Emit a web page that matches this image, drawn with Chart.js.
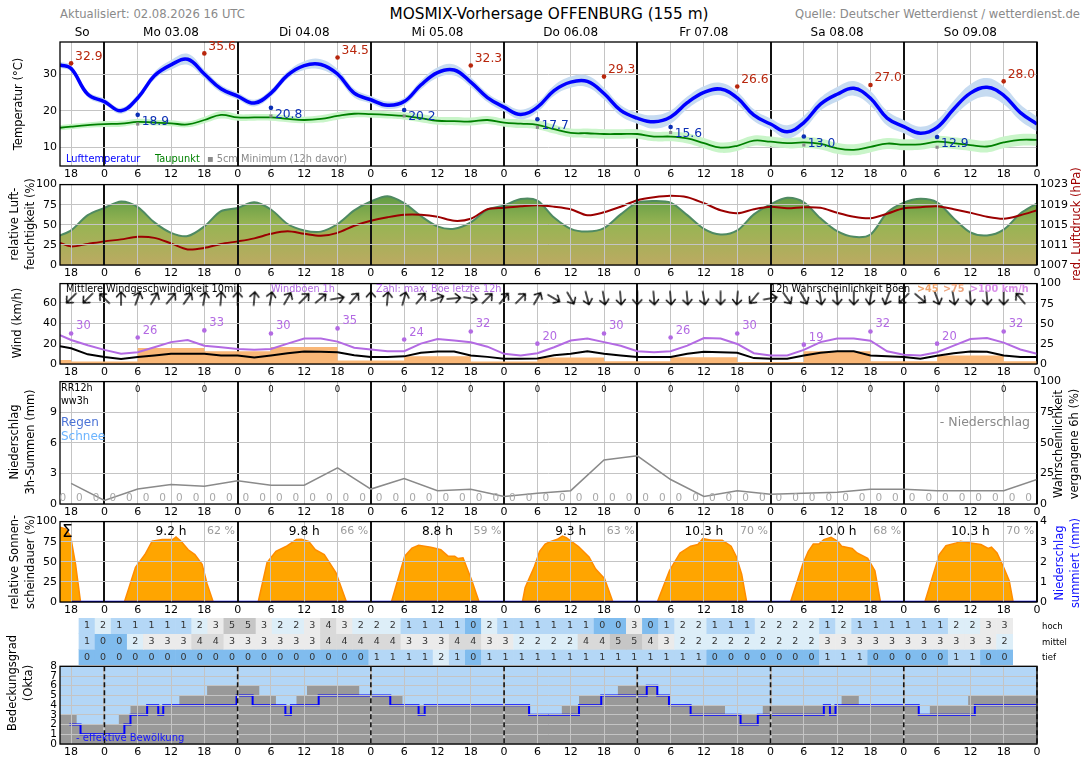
<!DOCTYPE html>
<html lang="de">
<head>
<meta charset="UTF-8">
<title>MOSMIX-Vorhersage OFFENBURG (155 m)</title>
<script src="https://cdn.jsdelivr.net/npm/chart.js@4.4.1/dist/chart.umd.min.js"></script>
<style>
  html, body { margin: 0; padding: 0; background: #fff; }
  body { font-family: "DejaVu Sans", sans-serif; }
  #page { position: relative; width: 1088px; height: 763px; overflow: hidden; }
  #page canvas { position: absolute; left: 0; }
  .t { position: absolute; white-space: nowrap; line-height: 1; }
  .rot { position: absolute; white-space: nowrap; text-align: center; font-size: 11.5px; line-height: 16px;
         transform: translate(-50%, -50%) rotate(-90deg); }
  .row { position: absolute; left: 1042px; font-size: 8.5px; line-height: 1; transform: translateY(-50%); }
</style>
</head>
<body>
<div id="page">
  <div class="t" style="left:60px; top:9px; font-size:11.6px; color:#8a8a8a;">Aktualisiert: 02.08.2026 16 UTC</div>
  <div class="t" style="left:549px; top:7px; font-size:15.3px; transform:translateX(-50%);">MOSMIX-Vorhersage OFFENBURG (155 m)</div>
  <div class="t" style="right:8px; top:9px; font-size:11.6px; color:#8a8a8a;">Quelle: Deutscher Wetterdienst / wetterdienst.de</div>

  <canvas id="cTemp"></canvas>
  <canvas id="cHum"></canvas>
  <canvas id="cWind"></canvas>
  <canvas id="cRain"></canvas>
  <canvas id="cSun"></canvas>
  <canvas id="cCloudTab"></canvas>
  <canvas id="cOkta"></canvas>

  <div class="rot" style="left:18px; top:104px;">Temperatur (°C)</div>
  <div class="rot" style="left:22px; top:224px;">relative Luft-<br>feuchtigkeit (%)</div>
  <div class="rot" style="left:17px; top:323px;">Wind (km/h)</div>
  <div class="rot" style="left:22px; top:442px;">Niederschlag<br>3h-Summen (mm)</div>
  <div class="rot" style="left:22px; top:562px;">relative Sonnen-<br>scheindauer (%)</div>
  <div class="rot" style="left:20px; top:683px;">Bedeckungsgrad<br>(Okta)</div>
  <div class="rot" style="left:1076px; top:224px; color:#a00000;">red. Luftdruck (hPa)</div>
  <div class="rot" style="left:1066px; top:444px;">Wahrscheinlichkeit<br>vergangene 6h (%)</div>
  <div class="rot" style="left:1067px; top:563px; color:#1010ff;">Niederschlag<br>summiert (mm)</div>

  <div class="row" style="top:626px;">hoch</div>
  <div class="row" style="top:642px;">mittel</div>
  <div class="row" style="top:657px;">tief</div>
</div>

<script>
Chart.defaults.font.family = '"DejaVu Sans", sans-serif';
Chart.defaults.font.size = 11;
Chart.defaults.color = '#000';

// all times are hours counted from 02.08. 00 UTC
const hourTicks = [18, 24, 30, 36, 42, 48, 54, 60, 66, 72, 78, 84, 90, 96, 102, 108, 114, 120, 126, 132, 138, 144, 150, 156, 162, 168, 174, 180, 186, 192];
const dayLabels = ['So', 'Mo 03.08', 'Di 04.08', 'Mi 05.08', 'Do 06.08', 'Fr 07.08', 'Sa 08.08', 'So 09.08'];
const dayCenters = [20, 36, 60, 84, 108, 132, 156, 180];

const hours3 = [16, 18, 21, 24, 27, 30, 33, 36, 39, 42, 45, 48, 51, 54, 57, 60, 63, 66, 69, 72,
  75, 78, 81, 84, 87, 90, 93, 96, 99, 102, 105, 108, 111, 114, 117, 120, 123, 126, 129, 132,
  135, 138, 141, 144, 147, 150, 153, 156, 159, 162, 165, 168, 171, 174, 177, 180, 183, 186, 189, 192];
const steps3h = [18, 21, 24, 27, 30, 33, 36, 39, 42, 45, 48, 51, 54, 57, 60, 63, 66, 69, 72,
  75, 78, 81, 84, 87, 90, 93, 96, 99, 102, 105, 108, 111, 114, 117, 120, 123, 126, 129, 132,
  135, 138, 141, 144, 147, 150, 153, 156, 159, 162, 165, 168, 171, 174, 177, 180, 183, 186, 189];

// temperature panel
const temp = [32.5, 31.5, 24.5, 22.5, 20.0, 23.5, 29.5, 32.5, 34.0, 30.0,
  26.0, 24.0, 22.1, 24.8, 29.7, 32.3, 32.6, 30.0, 24.8, 23.0,
  21.5, 22.5, 27.0, 30.4, 31.1, 27.8, 23.6, 21.0, 19.0, 21.0,
  25.5, 27.8, 28.0, 24.7, 20.1, 18.0, 17.0, 18.3, 22.2, 25.0,
  25.9, 23.5, 18.8, 16.4, 14.3, 16.8, 21.8, 24.5, 26.1, 23.4,
  18.0, 15.7, 13.9, 15.5, 20.5, 24.8, 26.4, 24.2, 19.5, 16.4];
const tempSpread = [0.8, 0.8, 0.8, 0.8, 0.8, 0.9, 1.0, 1.3, 1.5, 1.2,
  1.0, 0.9, 0.9, 1.0, 1.0, 1.2, 1.4, 1.3, 1.2, 1.0,
  1.0, 1.0, 1.2, 1.4, 1.5, 1.3, 1.2, 1.2, 1.3, 1.3,
  1.4, 1.5, 1.6, 1.6, 1.5, 1.5, 1.8, 1.8, 1.7, 1.7,
  1.7, 1.7, 1.6, 1.5, 1.8, 1.8, 1.8, 2.0, 2.0, 2.0,
  2.0, 1.8, 1.8, 2.0, 2.2, 2.4, 2.5, 2.4, 2.2, 2.0];
const dewPoint = [15.4, 15.7, 16.1, 16.4, 16.5, 17.0, 16.8, 16.6, 16.3, 17.5,
  18.9, 18.2, 18.2, 18.2, 17.8, 17.5, 17.8, 18.6, 19.2, 19.1,
  18.9, 18.6, 18.0, 17.3, 17.2, 17.1, 17.5, 16.8, 16.5, 16.2,
  15.0, 14.0, 13.9, 13.7, 13.7, 13.7, 13.0, 13.0, 12.5, 11.2,
  10.0, 10.5, 11.9, 11.6, 11.2, 11.4, 11.0, 9.8, 9.4, 10.2,
  11.1, 10.8, 10.9, 11.6, 11.2, 10.7, 10.3, 11.4, 12.1, 12.1];
const dewSpread = [0.7, 0.7, 0.7, 0.8, 0.8, 0.8, 0.8, 0.8, 0.8, 0.9,
  1.0, 0.9, 0.9, 0.9, 0.9, 0.9, 1.0, 1.0, 1.0, 1.0,
  1.0, 1.0, 1.1, 1.1, 1.1, 1.1, 1.1, 1.1, 1.2, 1.2,
  1.2, 1.2, 1.3, 1.3, 1.3, 1.3, 1.3, 1.3, 1.4, 1.4,
  1.4, 1.4, 1.4, 1.4, 1.4, 1.5, 1.5, 1.5, 1.5, 1.5,
  1.5, 1.5, 1.5, 1.6, 1.6, 1.6, 1.6, 1.6, 1.6, 1.6];
const maxHours = [18, 42, 66, 90, 114, 138, 162, 186];
const maxTemp = [32.9, 35.6, 34.5, 32.3, 29.3, 26.6, 27.0, 28.0];
const minHours = [30, 54, 78, 102, 126, 150, 174];
const minTemp = [18.9, 20.8, 20.2, 17.7, 15.6, 13.0, 12.9];
const min5cm = [16.4, 18.6, 18.6, 15.5, 14.1, 10.7, 10.1];

// humidity / pressure
const humidity = [36.7, 43, 62, 71, 79, 72, 53, 40, 36, 48,
  67, 71, 78, 69, 51, 43, 41.5, 51, 68, 79,
  85.5, 77, 61, 48, 45, 53, 69, 74, 82, 80,
  59, 45, 41.6, 46, 63, 77.5, 79.5, 77.5, 62, 45,
  38, 43, 63, 75.5, 83.5, 78, 58, 42, 35, 38,
  65, 77.5, 82.4, 78, 58, 40.5, 36.7, 44, 64, 76.7];
const pressure = [1011.4, 1010.7, 1011.2, 1011.7, 1012.1, 1012.6, 1012.4, 1011.3, 1010.1, 1010.4,
  1011.2, 1011.7, 1012.3, 1013.2, 1013.7, 1013.2, 1012.8, 1013.4, 1014.8, 1015.8,
  1016.5, 1017.0, 1017.0, 1016.6, 1015.8, 1016.2, 1018.1, 1018.4, 1018.7, 1018.9,
  1018.6, 1018.1, 1016.9, 1017.5, 1018.6, 1019.9, 1020.5, 1020.8, 1020.5, 1019.3,
  1017.9, 1017.3, 1018.1, 1018.6, 1018.3, 1018.5, 1018.4, 1017.4, 1016.6, 1016.3,
  1017.2, 1018.3, 1018.5, 1018.7, 1018.1, 1017.4, 1016.6, 1016.2, 1016.9, 1017.9];

// wind
const windMean = [17.4, 15.5, 9.5, 6.8, 4.8, 6.8, 8.4, 10, 10, 10,
  8.4, 8.4, 6.5, 8.4, 10.5, 12.3, 12, 11.6, 8.5, 6.8,
  6.8, 7.5, 11, 12.3, 12.3, 8.4, 7, 5.2, 5.2, 5.5,
  8.5, 10, 12.5, 10, 8.4, 6.8, 6.8, 6.8, 10, 12,
  11.6, 11, 5.8, 5.2, 5.2, 8.4, 11, 12.6, 12.6, 8.4,
  7.5, 6.8, 5.2, 8, 10.5, 12.3, 12, 8.4, 6.8, 6.8];
const windGust = [28.4, 23.6, 18.5, 13.9, 10, 11.6, 16.5, 21.5, 23.6, 18,
  16.5, 14.8, 13.9, 14.8, 20, 25, 25.1, 22, 16, 14.2,
  12.6, 12.6, 20, 24.5, 23, 21.3, 17, 10, 8.4, 10.6,
  16.5, 23, 25.1, 21.5, 18, 12.6, 11.6, 12.6, 18, 25.5,
  25, 19.7, 10.6, 8.4, 8.4, 13.9, 21.5, 25.1, 25, 22.9,
  12.5, 9, 8.4, 11.6, 18, 24.5, 25.5, 21, 14.2, 10];
const gustMaxHours = [18, 30, 42, 54, 66, 78, 90, 102, 114, 126, 138, 150, 162, 174, 186];
const gustMax = [30, 26, 33, 30, 35, 24, 32, 20, 30, 26, 30, 19, 32, 20, 32];
// direction the arrow points to, degrees clockwise from north (at steps3h)
const windDirTo = [225, 225, 315, 0, 20, 30, 40, 35, 10, 5,
  0, 5, 10, 30, 45, 50, 80, 40, 0, 5,
  15, 40, 70, 85, 100, 45, 40, 45, 30, 120,
  150, 165, 170, 175, 180, 175, 175, 175, 170, 180,
  185, 220, 80, 145, 150, 170, 175, 180, 190, 200,
  225, 130, 160, 170, 175, 175, 180, 320];
const gustProbHours = [16, 18, 30, 42, 54, 66, 78, 90, 102, 114, 126, 138, 150, 162, 174, 186, 192];
const gustProb45 = [5, 3, 20, 16, 21, 4.5, 9.5, 3, 8, 3.5, 8.5, 2.5, 16, 3.5, 10.5, 3.5, 3.5];

// precipitation
const rainProbHours = [18, 24, 30, 36, 42, 48, 54, 60, 66, 72, 78, 84, 90, 96, 102,
  108, 114, 120, 126, 132, 138, 144, 150, 156, 162, 168, 174, 180, 186, 192];
const rainProb = [16.8, 2.9, 12.2, 16, 14.6, 18.9, 15.4, 15.4, 29.6, 12.2, 20.8, 10.9, 12, 6.1, 8.8,
  10.9, 36, 39.4, 20, 6.1, 10.9, 8, 8.8, 9.6, 12, 12, 10.9, 10.9, 10.9, 20];
const precip3h = [0, 0, 0, 0, 0, 0, 0, 0, 0, 0, 0, 0, 0, 0, 0, 0, 0, 0, 0, 0,
  0, 0, 0, 0, 0, 0, 0, 0, 0, 0, 0, 0, 0, 0, 0, 0, 0, 0, 0, 0,
  0, 0, 0, 0, 0, 0, 0, 0, 0, 0, 0, 0, 0, 0, 0, 0, 0, 0, 0];
const rr12Hours = [30, 42, 54, 66, 78, 90, 102, 114, 126, 138, 150, 162, 174, 186];
const rr12 = [0, 0, 0, 0, 0, 0, 0, 0, 0, 0, 0, 0, 0, 0];

// sunshine
const sunHours = [16, 17, 17.9, 18.8, 19.7,
  27.6, 29.6, 31.3, 32.6, 34.4, 36.3, 36.9, 37.8, 39.1, 40.3, 41.6, 42.5, 43.6,
  51.7, 53.3, 54.9, 56.7, 58.6, 59.5, 60.8, 62, 63.6, 65.7, 67.6,
  75.7, 78.1, 79.4, 80.6, 82.8, 84.6, 85.9, 87.1, 87.7, 88.6, 90.2, 91.5,
  99.3, 99.8, 101.4, 102.4, 103.4, 104.3, 105.6, 106.5, 107.2, 109.4, 111.3, 112.5, 114.1, 115.6,
  123.6, 125.8, 127.7, 129.6, 130.9, 131.8, 133.4, 135.3, 136.9, 137.8, 138.8, 139.7,
  147.6, 149.8, 150.8, 151.7, 152.7, 153.6, 154.9, 156.1, 156.8, 158.7, 159.6, 161.5, 162.8, 163.8,
  171.8, 174.4, 175.6, 177.5, 178.2, 180, 181.9, 183.2, 183.8, 184.8, 186, 187, 187.7,
  192];
const sunPct = [93, 91, 82, 47, 0,
  0, 43, 59, 75.5, 77.6, 77.6, 80.8, 75.5, 65, 59, 47, 22.5, 0,
  0, 49, 63, 69, 77.6, 78, 75.5, 65, 59, 36.7, 0,
  0, 57, 67, 70.6, 68, 65, 57, 57, 54, 55, 26.5, 0,
  0, 18, 43, 63, 72, 75, 78, 82, 80, 69, 56, 41, 29, 0,
  0, 39, 61, 69.4, 71.5, 78.8, 76.7, 76.7, 69.4, 57, 34.7, 0,
  0, 47, 63, 72, 72, 77.6, 80.4, 75.5, 69.4, 66.6, 61, 54.3, 38.8, 0,
  0, 59, 70, 73.5, 75.5, 73.5, 71.5, 66.6, 68.2, 61, 43, 26.6, 0,
  0];
const sunDayStart = [24, 48, 72, 96, 120, 144, 168];
const sunDayHours = [9.2, 9.8, 8.8, 9.3, 10.3, 10.0, 10.3];
const sunDayPct = [62, 66, 59, 63, 70, 68, 70];
const precipSumHours = [18, 192];
const precipSum = [0, 0];

// cloud cover in okta (cells at steps3h)
const cloudHigh = [1, 2, 1, 1, 1, 1, 1, 2, 3, 5, 5, 3, 2, 2, 3, 4, 3, 2, 2, 2, 1, 1, 1, 1, 0, 2, 1, 1, 1,
  1, 1, 1, 0, 0, 3, 0, 1, 2, 2, 1, 1, 1, 2, 2, 2, 2, 1, 2, 1, 1, 1, 1, 1, 1, 2, 2, 3, 3];
const cloudMid = [1, 0, 0, 2, 3, 3, 3, 4, 4, 3, 3, 3, 3, 3, 3, 4, 4, 4, 4, 4, 3, 3, 3, 4, 4, 3, 3, 2, 2,
  2, 2, 4, 4, 5, 5, 4, 3, 2, 2, 2, 2, 2, 2, 2, 2, 2, 3, 3, 3, 3, 3, 3, 3, 3, 3, 3, 3, 2];
const cloudLow = [0, 0, 0, 0, 0, 0, 0, 0, 0, 0, 0, 0, 0, 0, 0, 0, 0, 0, 1, 1, 1, 1, 2, 1, 0, 1, 1, 1, 1,
  1, 1, 1, 1, 1, 1, 1, 1, 1, 1, 0, 0, 0, 0, 0, 0, 0, 1, 1, 1, 0, 0, 0, 0, 0, 1, 1, 0, 0];
const totalCloudHours = [16, 19, 26.6, 28.7, 37.5, 42.5, 51.9, 54.9, 58.6, 60.5, 69.9, 77.7, 100.7,
  106.4, 109.5, 116.5, 123.6, 125.7, 135.8, 142.6, 156.8, 159.9, 170.6, 172.7, 179.6, 192];
const totalCloud = [3, 2, 3, 4, 5, 6, 5, 4, 5, 6, 5, 4, 3, 4, 5, 6, 5, 4, 3, 4, 5, 4, 3, 4, 5, 5];
const effCloudHours = [17.7, 19.7, 27.6, 28.7, 31.7, 33.7, 34.6, 47.8, 50.7, 56.6, 57.6, 62.6, 75.5,
  80.6, 81.7, 100.5, 109.5, 113.5, 121.7, 123.6, 125.7, 129.6, 138.6, 141.7, 153.6, 154.7, 155.7,
  170.7, 180.8, 192];
const effCloud = [2, 1, 2, 3, 4, 3, 4, 5, 4, 3, 4, 5, 4, 3, 4, 3, 4, 5, 6, 5, 4, 3, 2, 3, 4, 3, 4, 3, 4, 4];

const cellColors = ['#80bcee', '#b4d7f6', '#ddeef8', '#ebebeb', '#d9d9d9', '#c6c6c6', '#b4b4b4', '#a2a2a2', '#909090'];
const violet = '#b36ae3';
const arrowRow = 64.5;

// ---- helpers ----
function pts(xs, ys) {
  return xs.map((x, i) => ({ x: x, y: ys[i] }));
}

function label(ctx, s, x, y, color, size, align, weight) {
  ctx.save();
  ctx.font = (weight || 'normal') + ' ' + size + 'px "DejaVu Sans", sans-serif';
  ctx.fillStyle = color;
  ctx.textAlign = align || 'left';
  ctx.textBaseline = 'middle';
  ctx.fillText(s, x, y);
  ctx.restore();
}

function setupCanvas(id, plotTop, padTop, plotH, axisH) {
  const cv = document.getElementById(id);
  cv.width = 1088;
  cv.height = padTop + plotH + axisH;
  cv.style.top = (plotTop - padTop) + 'px';
  return cv;
}

function baseOptions(padTop, padRight) {
  return {
    responsive: false,
    animation: false,
    events: [],
    layout: { padding: { top: padTop, right: padRight, left: 0, bottom: 0 } },
    plugins: { legend: { display: false }, tooltip: { enabled: false } }
  };
}

function xAxis(showLabels, midnightColor, z) {
  return {
    type: 'linear', min: 16, max: 192,
    afterBuildTicks: s => { s.ticks = hourTicks.map(v => ({ value: v })); },
    afterFit: s => { s.height = showLabels ? 16 : 0; },
    ticks: { display: showLabels, autoSkip: false, maxRotation: 0, padding: 2, callback: v => String(v % 24) },
    grid: {
      drawTicks: false, z: z || 0,
      color: c => (c.tick && c.tick.value % 24 === 0) ? midnightColor : '#c4c4c4',
      lineWidth: c => (c.tick && c.tick.value % 24 === 0) ? 2 : 1
    },
    border: { display: false }
  };
}

function yAxis(pos, min, max, tickVals, gridOn, z, fontSize) {
  return {
    type: 'linear', position: pos, min: min, max: max,
    afterBuildTicks: s => { s.ticks = tickVals.map(v => ({ value: v })); },
    afterFit: s => { s.width = pos === 'left' ? 60 : 51; },
    ticks: { autoSkip: false, padding: 3, font: { size: fontSize || 11 }, callback: v => String(v) },
    grid: { drawTicks: false, drawOnChartArea: gridOn, color: '#c4c4c4', z: z || 0 },
    border: { display: false }
  };
}

const framePlugin = {
  id: 'frame',
  afterDraw(chart) {
    const a = chart.chartArea, ctx = chart.ctx;
    ctx.save();
    ctx.strokeStyle = '#000';
    ctx.lineWidth = 1.3;
    ctx.strokeRect(a.left, a.top, a.right - a.left, a.bottom - a.top);
    ctx.restore();
  }
};

function textPlugin(draw) {
  return { id: 'texts', afterDraw(chart) { draw(chart.ctx, chart.chartArea, chart.scales); } };
}

function makeArrow() {
  const c = document.createElement('canvas');
  c.width = 14; c.height = 16;
  const g = c.getContext('2d');
  g.strokeStyle = '#000';
  g.lineWidth = 1.4;
  g.lineCap = 'round';
  g.beginPath();
  g.moveTo(7, 15); g.lineTo(7, 1.5);
  g.moveTo(2.5, 6.5); g.lineTo(7, 1.5); g.lineTo(11.5, 6.5);
  g.stroke();
  return c;
}
const arrowImg = makeArrow();

const tempUpper = temp.map((t, i) => t + tempSpread[i]);
const tempLower = temp.map((t, i) => t - tempSpread[i]);
const dewUpper = dewPoint.map((t, i) => t + dewSpread[i]);
const dewLower = dewPoint.map((t, i) => t - dewSpread[i]);
const band = { borderColor: 'transparent', borderWidth: 0, pointRadius: 0, tension: 0.4 };

// ---- temperature ----
new Chart(setupCanvas('cTemp', 42, 18, 124, 16), {
  type: 'line',
  data: { datasets: [
    { data: pts(maxHours, maxTemp), showLine: false, pointRadius: 2.3, pointBorderWidth: 0, pointBackgroundColor: '#b8260c', order: 0 },
    { data: pts(minHours, minTemp), showLine: false, pointRadius: 2.3, pointBorderWidth: 0, pointBackgroundColor: '#0b2fb5', order: 0 },
    { data: pts(minHours, min5cm), showLine: false, pointStyle: 'rect', pointRadius: 2.2, pointBorderWidth: 0, pointBackgroundColor: '#8a8a8a', order: 0 },
    { data: pts(hours3, temp), borderColor: '#0000ff', borderWidth: 3.5, pointRadius: 0, tension: 0.4, order: 1 },
    { data: pts(hours3, dewPoint), borderColor: '#008000', borderWidth: 1.8, pointRadius: 0, tension: 0.4, order: 2 },
    Object.assign({ data: pts(hours3, tempUpper), order: 3 }, band),
    Object.assign({ data: pts(hours3, tempLower), order: 3, fill: '-1', backgroundColor: '#c6dbf1' }, band),
    Object.assign({ data: pts(hours3, dewUpper), order: 4 }, band),
    Object.assign({ data: pts(hours3, dewLower), order: 4, fill: '-1', backgroundColor: '#c9f5c9' }, band)
  ] },
  options: Object.assign(baseOptions(18, 51), {
    scales: { x: xAxis(true, '#111'), y: yAxis('left', 5, 38.7, [10, 20, 30], true) }
  }),
  plugins: [framePlugin, textPlugin((ctx, a, s) => {
    dayLabels.forEach((d, i) => label(ctx, d, s.x.getPixelForValue(dayCenters[i]), a.top - 9, '#000', 12, 'center'));
    maxHours.forEach((h, i) => label(ctx, maxTemp[i].toFixed(1), s.x.getPixelForValue(h) + 4,
      s.y.getPixelForValue(maxTemp[i]) - 7, '#b8260c', 12.3));
    minHours.forEach((h, i) => label(ctx, minTemp[i].toFixed(1), s.x.getPixelForValue(h) + 4,
      s.y.getPixelForValue(minTemp[i]) + 7, '#0b2fb5', 12.3));
    label(ctx, 'Lufttemperatur', 66, a.bottom - 7, '#0000ff', 9.8);
    label(ctx, 'Taupunkt', 155, a.bottom - 7, '#008000', 9.8);
    label(ctx, '\u25AA 5cm Minimum (12h davor)', 207, a.bottom - 7, '#8a8a8a', 9.8);
  })]
});

// ---- humidity and pressure ----
function humGradient(c) {
  const a = c.chart.chartArea;
  if (!a) return '#8aaa50';
  const g = c.chart.ctx.createLinearGradient(0, a.top, 0, a.bottom);
  g.addColorStop(0, '#4a9240');
  g.addColorStop(0.5, '#98b453');
  g.addColorStop(1, '#bcaa62');
  return g;
}

new Chart(setupCanvas('cHum', 183, 8, 82, 16), {
  type: 'line',
  data: { datasets: [
    { data: pts(hours3, pressure), yAxisID: 'yP', borderColor: '#9b0000', borderWidth: 2, pointRadius: 0, tension: 0.3, order: 0 },
    { data: pts(hours3, humidity), yAxisID: 'y', borderColor: '#4f8a62', borderWidth: 2, pointRadius: 0, tension: 0.3,
      fill: 'origin', backgroundColor: humGradient, order: 1 }
  ] },
  options: Object.assign(baseOptions(8, 0), {
    scales: {
      x: xAxis(true, '#111', 1),
      y: yAxis('left', 0, 100, [0, 25, 50, 75, 100], true, 1),
      yP: yAxis('right', 1007, 1023, [1007, 1011, 1015, 1019, 1023], false)
    }
  }),
  plugins: [framePlugin]
});

// ---- wind ----
new Chart(setupCanvas('cWind', 282, 8, 82, 16), {
  type: 'line',
  data: { datasets: [
    { data: steps3h.map(h => ({ x: h, y: arrowRow })), showLine: false, pointStyle: arrowImg, pointRotation: windDirTo, order: 0 },
    { data: pts(gustMaxHours, gustMax), showLine: false, pointRadius: 2.3, pointBorderWidth: 0, pointBackgroundColor: violet, order: 0 },
    { data: pts(hours3, windMean), borderColor: '#000', borderWidth: 2, pointRadius: 0, order: 1 },
    { data: pts(hours3, windGust), borderColor: violet, borderWidth: 2, pointRadius: 0, order: 2 },
    { data: pts(gustProbHours, gustProb45), yAxisID: 'yP', stepped: true, fill: 'origin', backgroundColor: '#f9b777',
      borderColor: 'transparent', borderWidth: 0, pointRadius: 0, order: 3 }
  ] },
  options: Object.assign(baseOptions(8, 0), {
    scales: {
      x: xAxis(true, '#111'),
      y: yAxis('left', 0, 79, [0, 20, 40, 60], true),
      yP: yAxis('right', 0, 100, [0, 25, 50, 75, 100], false)
    }
  }),
  plugins: [framePlugin, textPlugin((ctx, a, s) => {
    const ty = a.top + 6;
    label(ctx, 'Mittlere Windgeschwindigkeit 10min', 66, ty, '#000', 9.7);
    label(ctx, 'Windböen 1h', 271, ty, violet, 9.7);
    label(ctx, 'Zahl: max. Böe letzte 12h', 376, ty, violet, 9.7);
    label(ctx, '12h Wahrscheinlichkeit Böen', 770, ty, '#000', 9.7);
    label(ctx, '>45', 917, ty, '#eda46c', 9.7, 'left', 'bold');
    label(ctx, '>75', 943, ty, '#eda47c', 9.7, 'left', 'bold');
    label(ctx, '>100 km/h', 970, ty, '#d98ee8', 9.7, 'left', 'bold');
    gustMaxHours.forEach((h, i) => label(ctx, String(gustMax[i]), s.x.getPixelForValue(h) + 5,
      s.y.getPixelForValue(gustMax[i]) - 7, violet, 11.5));
  })]
});

// ---- precipitation ----
new Chart(setupCanvas('cRain', 380, 8, 124, 16), {
  type: 'line',
  data: { datasets: [
    { data: pts(rainProbHours, rainProb), yAxisID: 'yP', borderColor: '#8a8a8a', borderWidth: 1.5, pointRadius: 0, tension: 0 }
  ] },
  options: Object.assign(baseOptions(8, 0), {
    scales: {
      x: xAxis(true, '#111'),
      y: yAxis('left', 0, 12, [0, 3, 6, 9], true),
      yP: yAxis('right', 0, 100, [0, 25, 50, 75, 100], false)
    }
  }),
  plugins: [framePlugin, textPlugin((ctx, a, s) => {
    label(ctx, 'RR12h', 61, a.top + 7, '#000', 9.6);
    label(ctx, 'ww3h', 61, a.top + 20, '#000', 9.6);
    label(ctx, 'Regen', 61, a.top + 41, '#4b73d6', 12);
    label(ctx, 'Schnee', 61, a.top + 55, '#6cb4ff', 12);
    label(ctx, '- Niederschlag', a.right - 7, a.top + 41, '#8a8a8a', 12.5, 'right');
    rr12Hours.forEach((h, i) => label(ctx, String(rr12[i]), s.x.getPixelForValue(h), a.top + 8, '#000', 8.5, 'center'));
    // 3h sums are written in the middle of their 3h interval
    steps3h.concat([192]).forEach((h, i) => label(ctx, String(precip3h[i]), s.x.getPixelForValue(h - 1.5),
      a.bottom - 6, '#a8a8a8', 10.5, 'center'));
  })]
});

// ---- sunshine ----
new Chart(setupCanvas('cSun', 520, 8, 82, 16), {
  type: 'line',
  data: { datasets: [
    { data: pts(precipSumHours, precipSum), yAxisID: 'yS', borderColor: '#0000cd', borderWidth: 2.5, pointRadius: 0, order: 0 },
    { data: pts(sunHours, sunPct), yAxisID: 'y', borderColor: '#ff8c00', borderWidth: 1.5, backgroundColor: '#ffa500',
      fill: 'origin', pointRadius: 0, tension: 0, order: 1 }
  ] },
  options: Object.assign(baseOptions(8, 0), {
    scales: {
      x: xAxis(true, '#111', 1),
      y: yAxis('left', 0, 100, [0, 25, 50, 75, 100], true, 1),
      yS: yAxis('right', 0, 4, [0, 1, 2, 3, 4], false)
    }
  }),
  plugins: [framePlugin, textPlugin((ctx, a, s) => {
    label(ctx, '\u03A3', 62, a.top + 11, '#000', 17);
    sunDayStart.forEach((d, i) => {
      label(ctx, sunDayHours[i].toFixed(1) + ' h', s.x.getPixelForValue(d + 12), a.top + 10, '#000', 12.2, 'center');
      label(ctx, sunDayPct[i] + ' %', s.x.getPixelForValue(d + 21), a.top + 10, '#9a9a9a', 11, 'center');
    });
  })]
});

// ---- cloud layers table ----
function cloudRow(values, lo) {
  return {
    data: steps3h.map(h => ({ x: h, y: [lo, lo + 1] })),
    backgroundColor: values.map(v => cellColors[v]),
    borderWidth: 0, barPercentage: 1, categoryPercentage: 1, grouped: false
  };
}
const cloudRows = [cloudLow, cloudMid, cloudHigh];

new Chart(setupCanvas('cCloudTab', 618, 0, 47, 0), {
  type: 'bar',
  data: { datasets: [cloudRow(cloudHigh, 2), cloudRow(cloudMid, 1), cloudRow(cloudLow, 0)] },
  options: Object.assign(baseOptions(0, 51), {
    layout: { padding: { top: 0, right: 51, left: 60, bottom: 0 } },
    scales: {
      x: Object.assign(xAxis(false, '#111'), { grid: { display: false } }),
      y: { type: 'linear', min: 0, max: 3, display: false }
    }
  }),
  plugins: [textPlugin((ctx, a, s) => {
    cloudRows.forEach((row, r) => row.forEach((v, i) => label(ctx, String(v), s.x.getPixelForValue(steps3h[i]),
      s.y.getPixelForValue(r + 0.5), '#333', 9.5, 'center')));
  })]
});

// ---- okta ----
const skyPlugin = {
  id: 'sky',
  beforeDraw(chart) {
    const a = chart.chartArea, ctx = chart.ctx;
    ctx.save();
    ctx.fillStyle = '#b3d6f6';
    ctx.fillRect(a.left, a.top, a.right - a.left, a.bottom - a.top);
    ctx.restore();
  }
};

new Chart(setupCanvas('cOkta', 665, 8, 79, 16), {
  type: 'line',
  data: { datasets: [
    { data: pts(effCloudHours, effCloud), stepped: true, borderColor: '#0000ff', borderWidth: 2, pointRadius: 0, order: 0 },
    { data: pts(totalCloudHours, totalCloud), stepped: true, borderColor: 'transparent', borderWidth: 0,
      backgroundColor: '#999999', fill: 'origin', pointRadius: 0, order: 1 }
  ] },
  options: Object.assign(baseOptions(8, 51), {
    scales: {
      x: xAxis(true, '#c4c4c4', 1),
      y: yAxis('left', 0, 8, [0, 1, 2, 3, 4, 5, 6, 7, 8], true, 1, 10.5)
    }
  }),
  plugins: [skyPlugin, framePlugin, textPlugin((ctx, a, s) => {
    ctx.save();
    ctx.strokeStyle = '#111';
    ctx.lineWidth = 1.6;
    ctx.setLineDash([5, 3]);
    hourTicks.filter(h => h % 24 === 0).forEach(h => {
      const x = s.x.getPixelForValue(h);
      ctx.beginPath(); ctx.moveTo(x, a.top); ctx.lineTo(x, a.bottom); ctx.stroke();
    });
    ctx.restore();
    label(ctx, '- effektive Bewölkung', 76, a.bottom - 6, '#1515ff', 10);
  })]
});
</script>
</body>
</html>
